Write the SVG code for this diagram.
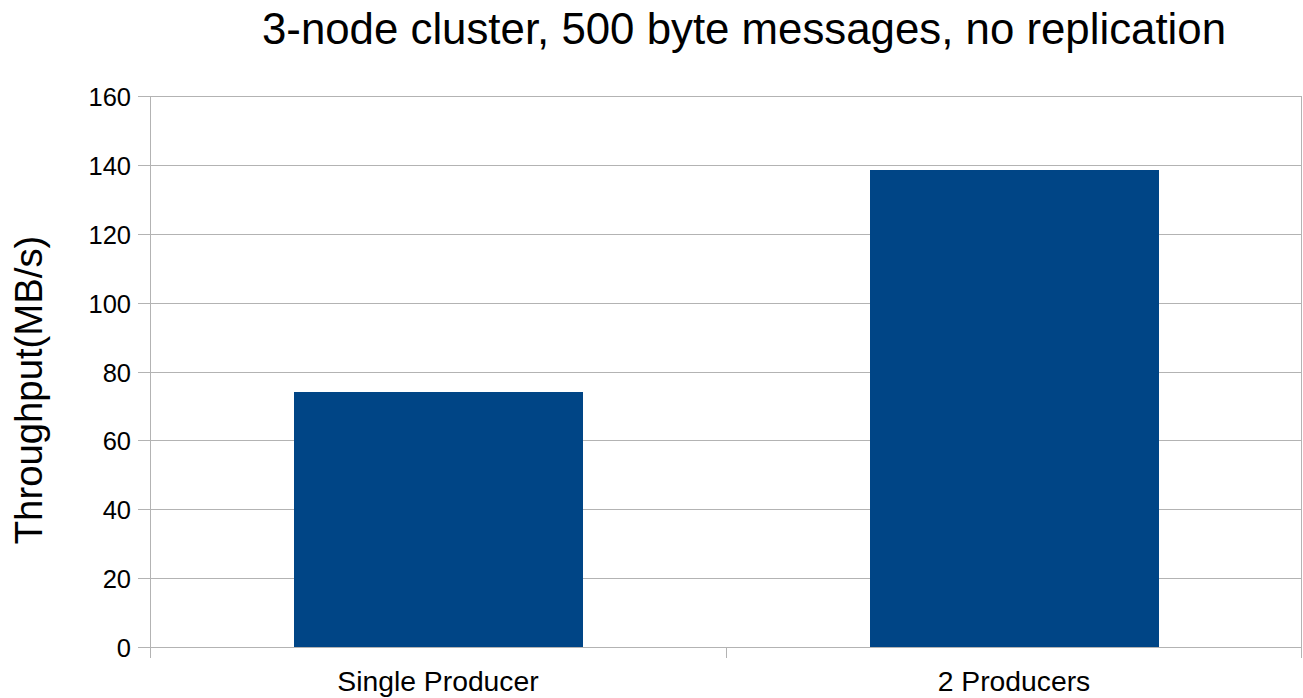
<svg xmlns="http://www.w3.org/2000/svg" width="1303" height="698" viewBox="0 0 1303 698">
<style>
.grid{stroke:#b3b3b3;stroke-width:1;fill:none}
.bar{fill:#004586}
.tick{font-family:"Liberation Sans",Arial,sans-serif;font-size:25.5px;fill:#000}
.xl{font-family:"Liberation Sans",Arial,sans-serif;font-size:28.3px;fill:#000}
.title{font-family:"Liberation Sans",Arial,sans-serif;font-size:43.8px;fill:#000}
.axt{font-family:"Liberation Sans",Arial,sans-serif;font-size:38.3px;fill:#000}
</style>
<rect width="1303" height="698" fill="#fff"/>
<g id="grid" class="grid">
<path d="M138 96.5H1302M138 165.5H1302M138 234.5H1302M138 303.5H1302M138 372.5H1302M138 440.5H1302M138 509.5H1302M138 578.5H1302M138 647.5H1302"/>
<path d="M150.5 96V658M726.5 647V658M1301.5 96V658"/>
</g>
<g id="bars">
<rect id="bar-single" class="bar" x="294" y="392" width="289" height="255"/>
<rect id="bar-two" class="bar" x="870" y="170" width="289" height="477"/>
</g>
<g id="yticks" class="tick" text-anchor="end">
<text x="131" y="105.5">160</text>
<text x="131" y="174.5">140</text>
<text x="131" y="243.5">120</text>
<text x="131" y="312.5">100</text>
<text x="131" y="381.5">80</text>
<text x="131" y="449.5">60</text>
<text x="131" y="518.5">40</text>
<text x="131" y="587.5">20</text>
<text x="131" y="656.5">0</text>
</g>
<g id="xticks" class="xl" text-anchor="middle">
<text x="438" y="691">Single Producer</text>
<text x="1014" y="691">2 Producers</text>
</g>
<text id="title" class="title" x="744" y="44" text-anchor="middle">3-node cluster, 500 byte messages, no replication</text>
<text id="ytitle" class="axt" transform="translate(42 390) rotate(-90)" text-anchor="middle">Throughput(MB/s)</text>
</svg>
